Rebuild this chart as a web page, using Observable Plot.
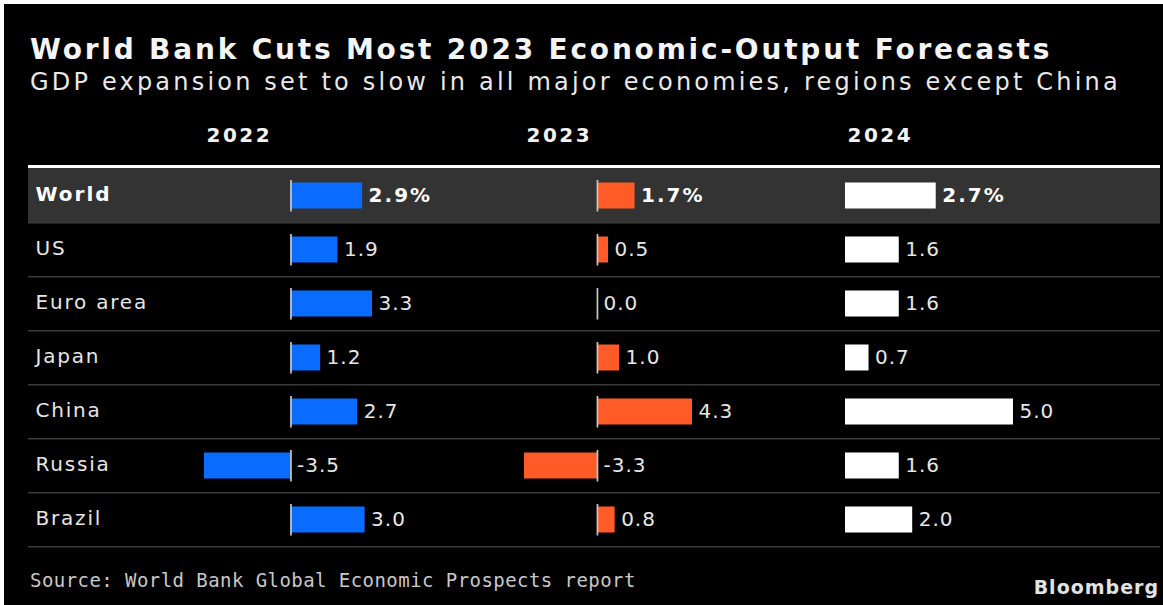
<!DOCTYPE html>
<html>
<head>
<meta charset="utf-8">
<script src="https://cdn.jsdelivr.net/npm/d3@7"></script>
<script src="https://cdn.jsdelivr.net/npm/@observablehq/plot@0.6"></script>
<style>
  html, body { margin: 0; padding: 0; background: #000; }
  #page { position: relative; width: 1163px; height: 605px; background: #000; overflow: hidden;
          box-shadow: inset 4px 4px 0 #fff; font-family: "DejaVu Sans", sans-serif; }
  .abs { position: absolute; white-space: nowrap; }
  #title { left: 30px; top: 36px; font-size: 28px; line-height: 28px; font-weight: bold; color: #f4f4f4; letter-spacing: 2.8px; }
  #subtitle { left: 30px; top: 70px; font-size: 24px; line-height: 24px; color: #e8e8e8; letter-spacing: 3.2px; }
  #source { left: 30px; top: 571px; font-family: "DejaVu Sans Mono", monospace; font-size: 19px; line-height: 19px; color: #c8c8c8; letter-spacing: 0.44px; }
  #logo { right: 4px; top: 578px; font-size: 19px; line-height: 19px; font-weight: bold; color: #e2e2e2; letter-spacing: 1px; }
  .plot { position: absolute; top: 105px; }
</style>
</head>
<body>
<div id="page">
  <div id="title" class="abs">World Bank Cuts Most 2023 Economic-Output Forecasts</div>
  <div id="subtitle" class="abs">GDP expansion set to slow in all major economies, regions except China</div>
  <div id="chart"></div>
  <div id="source" class="abs">Source: World Bank Global Economic Prospects report</div>
  <div id="logo" class="abs">Bloomberg</div>
</div>
<script>
// ---- data ----
const regions = ["World", "US", "Euro area", "Japan", "China", "Russia", "Brazil"];
const years = ["2022", "2023", "2024"];
const values2022 = [2.9, 1.9, 3.3, 1.2, 2.7, -3.5, 3.0];
const values2023 = [1.7, 0.5, 0.0, 1.0, 4.3, -3.3, 0.8];
const values2024 = [2.7, 1.6, 1.6, 0.7, 5.0, 1.6, 2.0];
const barColors = ["#0a6cff", "#ff5b26", "#ffffff"];
const highlight = "World";

// ---- layout ----
const H = 450, MT = 61, MB = 6.5;
const BW = (H - MT - MB) / regions.length;
const COLW = 168, COLMR = 90;
const colLeft = [204, 523.5, 845];
const chart = document.getElementById("chart");

const rows = regions.map(r => ({region: r}));

const main = Plot.plot({
  width: 1163, height: H,
  marginTop: MT, marginBottom: MB, marginLeft: 28, marginRight: 3,
  style: {background: "transparent", fontFamily: "DejaVu Sans", overflow: "visible"},
  x: {domain: [0, 1], axis: null},
  y: {type: "band", domain: regions, padding: 0, axis: null},
  marks: [
    Plot.barX(rows.filter(d => d.region === highlight), {x1: 0, x2: 1, y: "region", fill: "#333333"}),
    Plot.ruleY(rows, {y: "region", dy: BW / 2, stroke: "#3a3a3a", strokeWidth: 1.5}),
    Plot.ruleY(rows.slice(0, 1), {y: "region", dy: -BW / 2 - 1.75, stroke: "#ffffff", strokeWidth: 3}),
    Plot.text(rows.filter(d => d.region !== highlight), {y: "region", text: "region", frameAnchor: "left", dx: 7, dy: -1,
      textAnchor: "start", fill: "#e6e6e6", fontSize: 20}),
    Plot.text(rows.filter(d => d.region === highlight), {y: "region", text: "region", frameAnchor: "left", dx: 7, dy: -1,
      textAnchor: "start", fill: "#ffffff", fontSize: 20, fontWeight: "bold"})
  ]
});
main.classList.add("plot");
main.style.left = "0px";
chart.appendChild(main);
{
  const g = main.querySelectorAll('g[aria-label="text"]');
  if (g[0]) g[0].setAttribute("letter-spacing", "1.8px");
  if (g[1]) g[1].setAttribute("letter-spacing", "2px");
}

const series = [values2022, values2023, values2024];
series.forEach((vals, j) => {
  const data = regions.map((r, i) => ({region: r, value: vals[i]}));
  const lo = Math.min(0, d3.min(vals)), hi = d3.max(vals);
  const hasNeg = lo < 0;
  const fmt = d => d.value.toFixed(1) + (d.region === highlight ? "%" : "");
  const svg = Plot.plot({
    width: COLW + COLMR, height: H,
    marginTop: MT, marginBottom: MB, marginLeft: 0, marginRight: COLMR,
    style: {background: "transparent", fontFamily: "DejaVu Sans", overflow: "visible"},
    x: {domain: [lo, hi], axis: null},
    y: {type: "band", domain: regions, padding: 0, axis: null},
    marks: [
      Plot.barX(data, {x: "value", y: "region", fill: barColors[j], insetTop: 14.5, insetBottom: 13.5}),
      hasNeg ? Plot.tickX(data, {x: () => 0, y: "region", stroke: "#c8c8c8", strokeWidth: 1.7, insetTop: 12, insetBottom: 10.5}) : null,
      Plot.text(data.filter(d => d.region !== highlight), {x: d => Math.max(0, d.value), y: "region", text: fmt,
        textAnchor: "start", dx: 6, fill: "#e6e6e6", fontSize: 20}),
      Plot.text(data.filter(d => d.region === highlight), {x: d => Math.max(0, d.value), y: "region", text: fmt,
        textAnchor: "start", dx: 6, fill: "#ffffff", fontSize: 20, fontWeight: "bold"}),
      Plot.text([years[j]], {text: d => d, frameAnchor: "top-left", dx: 2, dy: -30.5, textAnchor: "start",
        lineAnchor: "middle", fill: "#f2f2f2", fontSize: 20, fontWeight: "bold"})
    ].filter(Boolean)
  });
  svg.classList.add("plot");
  svg.style.left = colLeft[j] + "px";
  chart.appendChild(svg);
  const g = svg.querySelectorAll('g[aria-label="text"]');
  if (g[0]) g[0].setAttribute("letter-spacing", "1px");
  if (g[1]) g[1].setAttribute("letter-spacing", "2px");
  if (g[2]) g[2].setAttribute("letter-spacing", "2.5px");
});
</script>
</body>
</html>
